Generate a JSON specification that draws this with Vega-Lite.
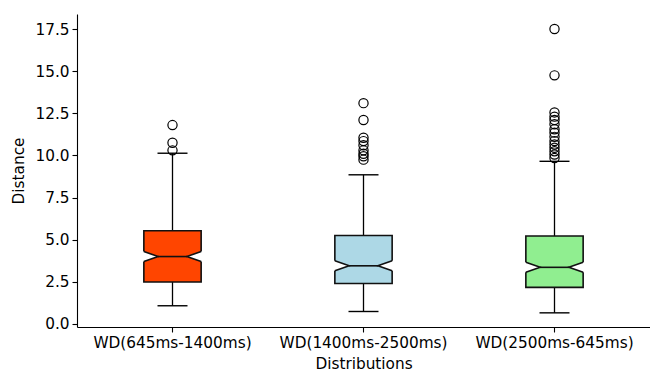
{
  "$schema": "https://vega.github.io/schema/vega-lite/v6.json",
  "width": 573,
  "height": 313,
  "autosize": {"type": "none"},
  "padding": {"left": 77, "top": 14, "right": 0, "bottom": 45},
  "background": "white",
  "config": {
    "view": {"stroke": null},
    "font": "DejaVu Sans",
    "axis": {
      "labelFont": "DejaVu Sans",
      "titleFont": "DejaVu Sans",
      "labelFontSize": 15.3,
      "titleFontSize": 15.3,
      "titleFontWeight": "normal",
      "labelColor": "#000",
      "titleColor": "#000",
      "tickColor": "#000",
      "domainColor": "#000",
      "domainWidth": 1.1,
      "tickWidth": 1.1,
      "tickSize": 5,
      "labelPadding": 3,
      "grid": false
    }
  },
  "datasets": {
    "boxes": [
      {"group": "WD(645ms-1400ms)", "wlo": 1.08, "q1": 2.49, "nlo": 3.70, "med": 4.0, "nhi": 4.29, "q3": 5.53, "whi": 10.13},
      {"group": "WD(1400ms-2500ms)", "wlo": 0.74, "q1": 2.4, "nlo": 3.16, "med": 3.45, "nhi": 3.74, "q3": 5.25, "whi": 8.85},
      {"group": "WD(2500ms-645ms)", "wlo": 0.66, "q1": 2.17, "nlo": 3.08, "med": 3.36, "nhi": 3.64, "q3": 5.22, "whi": 9.65}
    ],
    "outliers": [
      {"group": "WD(645ms-1400ms)", "value": 11.8},
      {"group": "WD(645ms-1400ms)", "value": 10.75},
      {"group": "WD(645ms-1400ms)", "value": 10.3},
      {"group": "WD(1400ms-2500ms)", "value": 13.1},
      {"group": "WD(1400ms-2500ms)", "value": 12.1},
      {"group": "WD(1400ms-2500ms)", "value": 11.05},
      {"group": "WD(1400ms-2500ms)", "value": 10.85},
      {"group": "WD(1400ms-2500ms)", "value": 10.6},
      {"group": "WD(1400ms-2500ms)", "value": 10.3},
      {"group": "WD(1400ms-2500ms)", "value": 10.1},
      {"group": "WD(1400ms-2500ms)", "value": 9.95},
      {"group": "WD(1400ms-2500ms)", "value": 9.75},
      {"group": "WD(2500ms-645ms)", "value": 17.5},
      {"group": "WD(2500ms-645ms)", "value": 14.75},
      {"group": "WD(2500ms-645ms)", "value": 12.55},
      {"group": "WD(2500ms-645ms)", "value": 12.3},
      {"group": "WD(2500ms-645ms)", "value": 12.1},
      {"group": "WD(2500ms-645ms)", "value": 11.85},
      {"group": "WD(2500ms-645ms)", "value": 11.55},
      {"group": "WD(2500ms-645ms)", "value": 11.35},
      {"group": "WD(2500ms-645ms)", "value": 11.1},
      {"group": "WD(2500ms-645ms)", "value": 10.85},
      {"group": "WD(2500ms-645ms)", "value": 10.65},
      {"group": "WD(2500ms-645ms)", "value": 10.45},
      {"group": "WD(2500ms-645ms)", "value": 10.25},
      {"group": "WD(2500ms-645ms)", "value": 10.05},
      {"group": "WD(2500ms-645ms)", "value": 9.85}
    ]
  },
  "encoding": {
    "x": {
      "field": "group",
      "type": "nominal",
      "sort": ["WD(645ms-1400ms)", "WD(1400ms-2500ms)", "WD(2500ms-645ms)"],
      "scale": {"type": "band", "paddingInner": 0, "paddingOuter": 0},
      "axis": {"title": "Distributions", "labelAngle": 0, "titlePadding": 6, "domain": true}
    }
  },
  "layer": [
    {
      "data": {"name": "boxes"},
      "mark": {"type": "rule", "color": "#000", "strokeWidth": 1.3},
      "encoding": {
        "y": {
          "field": "q3",
          "type": "quantitative",
          "scale": {"domain": [-0.18, 18.39], "nice": false, "zero": false},
          "axis": {"title": "Distance", "values": [0, 2.5, 5, 7.5, 10, 12.5, 15, 17.5], "format": ".1f", "titlePadding": 8, "domain": true}
        },
        "y2": {"field": "whi"}
      }
    },
    {
      "data": {"name": "boxes"},
      "mark": {"type": "rule", "color": "#000", "strokeWidth": 1.3},
      "encoding": {
        "y": {"field": "wlo", "type": "quantitative"},
        "y2": {"field": "q1"}
      }
    },
    {
      "data": {"name": "boxes"},
      "mark": {"type": "tick", "color": "#000", "size": 30, "thickness": 1.4, "opacity": 1},
      "encoding": {"y": {"field": "whi", "type": "quantitative"}}
    },
    {
      "data": {"name": "boxes"},
      "mark": {"type": "tick", "color": "#000", "size": 30, "thickness": 1.4, "opacity": 1},
      "encoding": {"y": {"field": "wlo", "type": "quantitative"}}
    },
    {
      "data": {"name": "boxes"},
      "mark": {"type": "bar", "width": {"band": 0.3}, "stroke": "#111", "strokeWidth": 1.6, "opacity": 1},
      "encoding": {
        "y": {"field": "q1", "type": "quantitative"},
        "y2": {"field": "q3"},
        "color": {
          "field": "group",
          "type": "nominal",
          "scale": {"domain": ["WD(645ms-1400ms)", "WD(1400ms-2500ms)", "WD(2500ms-645ms)"], "range": ["#ff4500", "#add8e6", "#90ee90"]},
          "legend": null
        }
      }
    },
    {
      "data": {"name": "boxes"},
      "mark": {"type": "point", "shape": "M 1.09 -0.175 L 1 -0.175 L 0.5 0 L 1 0.175 L 1.09 0.175 Z M -1.09 -0.175 L -1 -0.175 L -0.5 0 L -1 0.175 L -1.09 0.175 Z", "size": 3283, "filled": true, "color": "white", "strokeWidth": 0, "opacity": 1},
      "encoding": {"y": {"field": "med", "type": "quantitative"}}
    },
    {
      "data": {"name": "boxes"},
      "mark": {"type": "point", "shape": "M 1 -0.175 L 0.5 0 L 1 0.175 M -1 -0.175 L -0.5 0 L -1 0.175", "size": 3283, "filled": false, "color": "#111", "strokeWidth": 1.6, "opacity": 1},
      "encoding": {"y": {"field": "med", "type": "quantitative"}}
    },
    {
      "data": {"name": "boxes"},
      "mark": {"type": "tick", "color": "#111", "size": 29, "thickness": 1.6, "opacity": 1},
      "encoding": {"y": {"field": "med", "type": "quantitative"}}
    },
    {
      "data": {"name": "outliers"},
      "mark": {"type": "point", "shape": "circle", "filled": false, "color": "#000", "size": 85, "strokeWidth": 1.2, "opacity": 1},
      "encoding": {"y": {"field": "value", "type": "quantitative"}}
    },
    {
      "mark": {"type": "rule", "color": "#000", "strokeWidth": 1.2},
      "encoding": {"y": {"datum": 18.39, "type": "quantitative"}}
    }
  ]
}
